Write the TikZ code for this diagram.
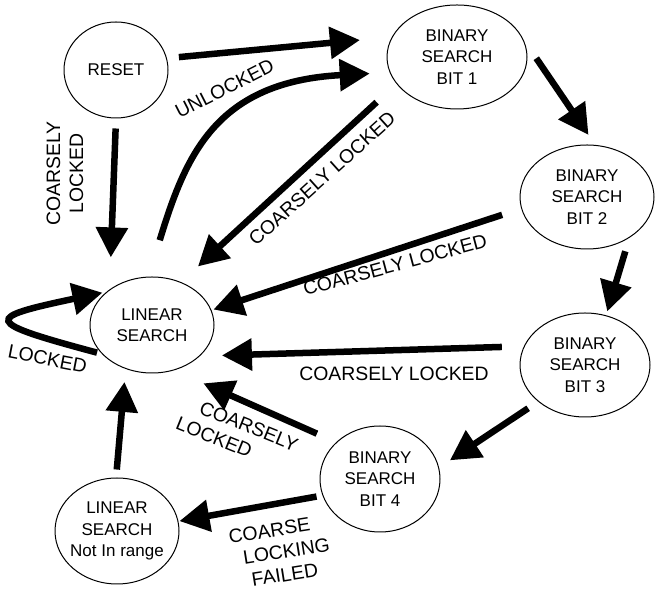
\documentclass[tikz,border=0pt]{standalone}
\usepackage{fontspec}
\setmainfont{Liberation Sans}
\usetikzlibrary{shapes.geometric,arrows.meta}

\begin{document}
\begin{tikzpicture}[x=1pt, y=1pt,
  state/.style={ellipse, draw, line width=1pt, inner sep=-10pt, align=center,
    font=\fontsize{17}{21.5}\selectfont},
  flow/.style={line width=6.5pt, -{Triangle[length=30pt, width=31pt]}},
  lbl/.style={inner sep=0pt, font=\fontsize{19.4}{23}\selectfont}]

  \useasboundingbox (0,0) rectangle (655,593);

  %% states
  \node[state, minimum width=104pt, minimum height=96pt] (reset) at (116,523) {RESET};
  \node[state, minimum width=140pt, minimum height=104pt] (bin1) at (457,536) {BINARY\\SEARCH\\BIT 1};
  \node[state, minimum width=134pt, minimum height=104pt] (bin2) at (587,396) {BINARY\\SEARCH\\BIT 2};
  \node[state, minimum width=124pt, minimum height=96pt] (lin) at (152,268) {LINEAR\\SEARCH};
  \node[state, minimum width=130pt, minimum height=104pt] (bin3) at (585,228) {BINARY\\SEARCH\\BIT 3};
  \node[state, minimum width=120pt, minimum height=106pt] (bin4) at (380,114) {BINARY\\SEARCH\\BIT 4};
  \node[state, minimum width=124pt, minimum height=106pt] (nir) at (117,62) {LINEAR\\SEARCH\\Not In range};

  %% transitions
  \draw[flow, shorten <=12pt, shorten >=32pt] (reset.13) -- (bin1.163); %% RESET->BIT1
  \draw[flow, shorten <=10pt, shorten >=32pt] (reset.270) -- (lin.140); %% RESET->LINEAR
  \draw[flow, shorten <=38pt, shorten >=20pt] (lin.94) .. controls +(73:125) and +(183:175) .. (bin1.193); %% LINEAR->BIT1
  \draw[flow, shorten <=27pt, shorten >=23pt] (bin1.204) -- (lin.56); %% BIT1->LINEAR
  \draw[flow, shorten <=23pt, shorten >=12pt] (bin1.15) -- (bin2.81); %% BIT1->BIT2
  \draw[flow, shorten <=20pt, shorten >=2pt] (bin2.190) -- (lin.14); %% BIT2->LINEAR
  \draw[flow, shorten <=14pt, shorten >=4pt] (bin2.316) -- (bin3.67); %% BIT2->BIT3
  \draw[flow, shorten <=22pt, shorten >=22pt] (bin3.163) -- (lin.327); %% BIT3->LINEAR
  \draw[flow, shorten <=12pt, shorten >=13pt] (bin3.218) -- (bin4.11); %% BIT3->BIT4
  \draw[flow, shorten <=21pt, shorten >=32pt] (bin4.140) -- (lin.296); %% BIT4->LINEAR
  \draw[flow, shorten <=6pt, shorten >=1pt] (bin4.196) -- (nir.9); %% BIT4->NOT IN RANGE
  \draw[flow, shorten <=8pt, shorten >=13pt] (nir.91) -- (lin.239); %% NOT IN RANGE->LINEAR
  \draw[flow, shorten <=5pt, shorten >=4pt] (lin.210) .. controls +(165:125) and +(192:125) .. (lin.144); %% LINEAR->LINEAR

  %% labels
  \node[lbl, rotate=27] (lunlock) at (224.5,504.5) {UNLOCKED};
  \node[lbl, rotate=90, align=center] (lreset) at (65,419.5) {COARSELY\\LOCKED};
  \node[lbl, rotate=42] (lbit1) at (322,414.5) {COARSELY LOCKED};
  \node[lbl, rotate=15] (lbit2) at (395,328) {COARSELY LOCKED};
  \node[lbl] (lbit3) at (394,219.5) {COARSELY LOCKED};
  \node[lbl, rotate=-22, align=left] (lbit4) at (244.6,156) {COARSELY\\\hspace*{-16pt}LOCKED};
  \node[lbl, rotate=9, align=left] (lfail) at (281,41) {COARSE\\\hspace*{11pt}LOCKING\\\hspace*{16pt}FAILED};
  \node[lbl, rotate=-11] (llock) at (47.5,234) {LOCKED};
\end{tikzpicture}
\end{document}
